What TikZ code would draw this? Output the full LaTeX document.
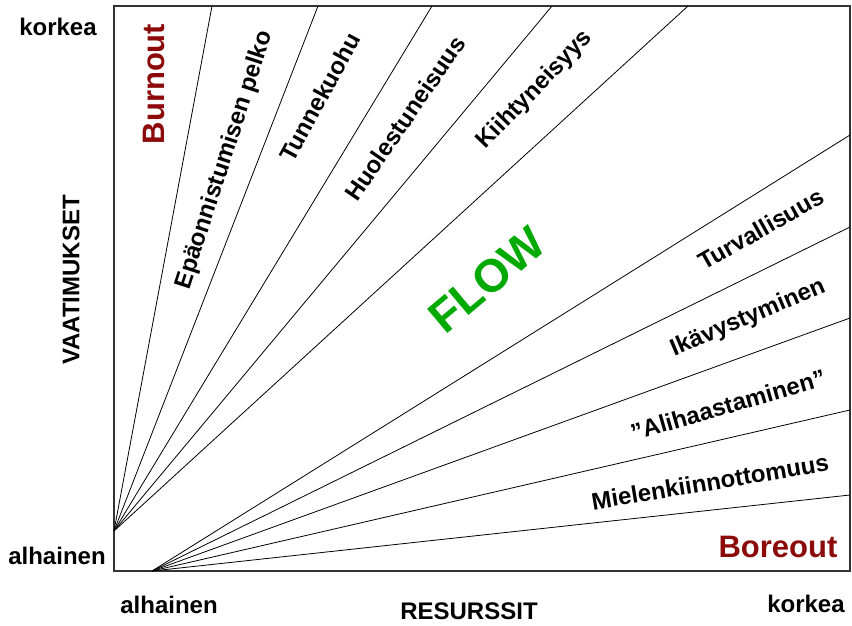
\documentclass[tikz,border=0pt]{standalone}
\usepackage{fontspec}
\setmainfont{Liberation Sans}
\definecolor{burn}{RGB}{140,10,10}
\definecolor{flowgreen}{RGB}{0,170,0}
\begin{document}
\begin{tikzpicture}[x=1pt,y=-1pt,
  lbl/.style={font=\bfseries\fontsize{24}{28}\selectfont, inner sep=0pt},
  red/.style={font=\bfseries\fontsize{31}{36}\selectfont, text=burn, inner sep=0pt},
  fan/.style={draw=black, line width=0.8pt},
  frame/.style={draw=black!80, line width=1.3pt}]
\useasboundingbox[fill=white] (0,0) rectangle (852,625);
% frame
\coordinate (TL) at (114,6);
\coordinate (BR) at (850,571);
\draw[frame] (TL) rectangle (BR);
% fan origins
\coordinate (OL) at (114,531);
\coordinate (OB) at (152,571);
% top endpoints
\coordinate (T1) at (212,6);
\coordinate (T2) at (318,6);
\coordinate (T3) at (432,6);
\coordinate (T4) at (552,6);
\coordinate (T5) at (688,6);
% right endpoints
\coordinate (R1) at (850,135);
\coordinate (R2) at (850,227);
\coordinate (R3) at (850,318);
\coordinate (R4) at (850,410);
\coordinate (R5) at (850,495);
\foreach \p in {T1,T2,T3,T4,T5} \draw[fan] (OL) -- (\p);
\foreach \p in {R1,R2,R3,R4,R5} \draw[fan] (OB) -- (\p);
% region labels
\node[red, rotate=90] (burnout) at (154,84) {Burnout};
\node[red] (boreout) at (778,547) {Boreout};
\node[font=\bfseries\fontsize{46}{50}\selectfont, text=flowgreen, rotate=40, inner sep=0pt] (flow) at (487,280) {FLOW};
\node[lbl, rotate=72] (l1) at (225,160) {Epäonnistumisen pelko};
\node[lbl, rotate=61.5] (l2) at (320,97) {Tunnekuohu};
\node[lbl, rotate=55.5] (l3) at (405,118) {Huolestuneisuus};
\node[lbl, rotate=46] (l4) at (535,90) {Kiihtyneisyys};
\node[lbl, rotate=29.5] (r1) at (761,229) {Turvallisuus};
\node[lbl, rotate=23] (r2) at (748,318) {Ikävystyminen};
\node[lbl, rotate=16] (r3) at (728,405) {”Alihaastaminen”};
\node[lbl, rotate=9.5] (r4) at (710,482) {Mielenkiinnottomuus};
% axis labels
\node[lbl] (ky) at (58,27) {korkea};
\node[lbl] (ay) at (57,556) {alhainen};
\node[lbl, rotate=90] (vaat) at (71,280) {VAATIMUKSET};
\node[lbl] (ax) at (169,605) {alhainen};
\node[lbl] (res) at (469,611) {RESURSSIT};
\node[lbl] (kx) at (806,604) {korkea};
\end{tikzpicture}
\end{document}
